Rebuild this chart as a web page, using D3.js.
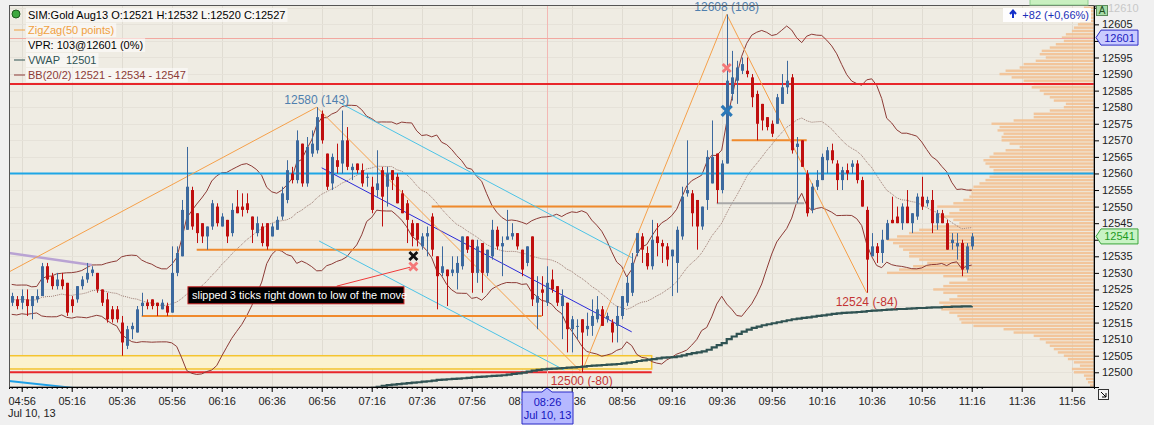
<!DOCTYPE html>
<html><head><meta charset="utf-8">
<script src="https://cdn.jsdelivr.net/npm/d3@7"></script>
<style>
html,body{margin:0;padding:0;background:#f0f0f0;}
svg{display:block;font-family:"Liberation Sans",Arial,sans-serif;}
</style></head><body>
<svg id="chart" width="1154" height="425"></svg>
<script>
// ---------------- DATA ----------------
const instrument = "SIM:Gold Aug13";
const sessionDate = "2013-07-10";
const firstBarTime = "04:52";
const barMinutes = 2;
// [open, high, low, close] per 2-minute bar
const candles = [
[12521,12524,12520,12523],[12522,12523,12519,12520],[12521,12525,12519,12523],[12522,12525,12517,12520],
[12520,12523,12516,12523],[12522,12525,12521,12523],[12523,12533,12523,12532],[12532,12533,12527,12528],
[12529,12530,12525,12526],[12526,12530,12525,12528],[12528,12530,12525,12526],[12527,12527,12517,12518],
[12522,12523,12518,12520],[12522,12526,12521,12526],[12526,12529,12525,12528],[12528,12533,12527,12530],
[12530,12532,12529,12531],[12530,12530,12524,12525],[12525,12525,12520,12521],[12522,12524,12515,12516],
[12519,12520,12515,12516],[12519,12520,12515,12516],[12515,12517,12505,12509],[12508,12514,12507,12513],
[12513,12515,12510,12514],[12512,12520,12512,12519],[12520,12524,12517,12521],[12521,12522,12519,12520],
[12522,12522,12519,12520],[12521,12521,12517,12520],[12519,12522,12519,12521],[12520,12521,12517,12518],
[12518,12538,12518,12530],[12530,12538,12529,12536],[12535,12552,12535,12549],[12543,12568,12543,12556],
[12555,12556,12543,12544],[12548,12548,12539,12542],[12545,12545,12539,12541],[12541,12544,12537,12544],
[12544,12552,12543,12551],[12550,12551,12544,12545],[12544,12548,12544,12547],[12546,12546,12539,12541],
[12542,12551,12541,12549],[12550,12555,12548,12548],[12550,12554,12547,12549],[12551,12554,12548,12549],
[12547,12547,12539,12543],[12542,12547,12541,12545],[12544,12545,12538,12539],[12545,12545,12537,12538],
[12541,12545,12541,12544],[12543,12547,12543,12546],[12547,12556,12546,12554],[12552,12564,12551,12561],
[12560,12562,12557,12558],[12558,12573,12557,12570],[12569,12569,12556,12557],[12557,12571,12556,12568],
[12566,12573,12565,12569],[12567,12580,12566,12577],[12578,12579,12569,12570],[12566,12566,12555,12556],
[12557,12566,12555,12565],[12564,12569,12560,12562],[12563,12579,12560,12570],[12570,12574,12561,12562],
[12561,12563,12558,12562],[12563,12563,12560,12561],[12561,12563,12556,12557],[12559,12560,12556,12559],
[12556,12559,12548,12549],[12555,12567,12553,12557],[12561,12562,12544,12553],[12556,12562,12550,12560],
[12561,12561,12555,12558],[12559,12560,12551,12551],[12554,12555,12548,12548],[12551,12552,12539,12546],
[12545,12546,12538,12541],[12545,12545,12538,12540],[12538,12542,12537,12541],[12541,12544,12535,12542],
[12547,12548,12535,12537],[12535,12535,12519,12529],[12530,12538,12529,12532],[12531,12531,12520,12529],
[12530,12535,12529,12531],[12530,12535,12525,12533],[12532,12541,12531,12541],[12541,12541,12536,12537],
[12540,12540,12524,12530],[12530,12540,12527,12538],[12539,12539,12524,12530],[12530,12537,12529,12537],
[12535,12546,12534,12543],[12543,12544,12537,12538],[12538,12541,12529,12539],[12540,12549,12540,12541],
[12541,12545,12540,12542],[12542,12542,12537,12538],[12537,12537,12529,12531],[12533,12538,12532,12538],
[12541,12541,12520,12522],[12521,12529,12513,12523],[12525,12529,12517,12524],[12521,12532,12520,12527],
[12528,12531,12524,12525],[12526,12526,12520,12521],[12520,12525,12510,12523],[12521,12521,12506,12513],
[12513,12517,12506,12516],[12514,12516,12510,12514],[12516,12516,12500,12512],[12513,12518,12511,12514],
[12514,12522,12511,12517],[12516,12523,12515,12519],[12519,12520,12514,12514],[12516,12518,12515,12517],
[12515,12516,12509,12512],[12514,12520,12509,12517],[12517,12523,12516,12523],[12521,12529,12520,12527],
[12524,12536,12523,12533],[12536,12542,12535,12542],[12541,12542,12533,12537],[12536,12538,12531,12532],
[12532,12546,12531,12540],[12541,12545,12535,12539],[12539,12540,12533,12538],[12538,12539,12532,12534],
[12535,12537,12523,12537],[12533,12544,12524,12543],[12541,12556,12540,12553],[12554,12570,12553,12555],
[12554,12555,12544,12548],[12552,12552,12537,12544],[12544,12550,12543,12550],[12552,12567,12549,12565],
[12557,12576,12557,12565],[12566,12566,12551,12555],[12555,12564,12554,12563],[12563,12608,12563,12588],
[12584,12597,12582,12589],[12588,12594,12581,12592],[12591,12595,12590,12593],[12591,12595,12589,12590],
[12589,12590,12580,12583],[12584,12585,12570,12575],[12581,12581,12573,12576],[12577,12577,12573,12574],
[12575,12576,12571,12572],[12575,12584,12575,12583],[12581,12590,12581,12586],[12586,12594,12584,12588],
[12589,12590,12566,12567],[12568,12571,12551,12569],[12570,12570,12562,12562],[12560,12561,12547,12548],
[12549,12557,12548,12556],[12556,12561,12555,12558],[12558,12566,12558,12565],[12564,12568,12560,12567],
[12567,12569,12563,12564],[12563,12564,12555,12558],[12558,12562,12555,12561],[12561,12563,12558,12560],
[12562,12564,12560,12563],[12563,12564,12557,12558],[12558,12559,12550,12550],[12549,12550,12524,12534],
[12535,12542,12535,12538],[12538,12539,12533,12536],[12536,12543,12533,12540],[12540,12546,12540,12545],
[12546,12553,12545,12545],[12547,12550,12545,12545],[12545,12551,12543,12550],[12550,12555,12545,12545],
[12545,12548,12542,12548],[12547,12554,12546,12553],[12553,12559,12549,12550],[12551,12553,12550,12552],
[12552,12555,12542,12545],[12545,12549,12543,12548],[12548,12549,12545,12545],[12545,12546,12537,12537],
[12539,12542,12537,12540],[12538,12542,12534,12539],[12539,12540,12529,12531],[12531,12539,12530,12538],
[12538,12542,12537,12541]
];
// closes of the 19 bars before the visible window (for the Bollinger band)
const priorCloses = [12524,12519,12522,12526,12520,12518,12523,12525,12521,12519,12524,12522,12520,12525,12523,12519,12521,12524,12522];
const bbPeriod = 20, bbDev = 2;
const crosshairBar = 107;

const vwapStartBar = 70;
const vwap = [
12494.9,12495.1,12495.3,12495.6,12495.9,12496.1,12496.3,12496.4,12496.6,12496.7,
12496.9,12497.0,12497.2,12497.3,12497.5,12497.7,12497.8,12497.9,12498.0,12498.1,
12498.2,12498.3,12498.5,12498.6,12498.7,12498.8,12498.9,12499.0,12499.1,12499.3,
12499.5,12499.7,12499.9,12500.2,12500.5,12500.7,12500.9,12501.0,12501.1,12501.2,
12501.3,12501.4,12501.5,12501.6,12501.7,12501.9,12502.0,12502.1,12502.2,12502.3,
12502.4,12502.5,12502.7,12502.9,12503.1,12503.4,12503.6,12503.8,12504.0,12504.2,
12504.4,12504.5,12504.6,12504.8,12505.1,12505.5,12505.8,12506.0,12506.3,12506.8,
12507.5,12508.2,12508.8,12510.0,12510.8,12511.6,12512.3,12512.9,12513.4,12513.8,
12514.2,12514.5,12514.8,12515.1,12515.4,12515.7,12516.0,12516.2,12516.4,12516.6,
12516.8,12517.0,12517.2,12517.4,12517.6,12517.8,12517.9,12518.0,12518.1,12518.2,
12518.3,12518.5,12518.6,12518.7,12518.8,12518.9,12519.0,12519.1,12519.1,12519.2,
12519.3,12519.4,12519.4,12519.5,12519.6,12519.6,12519.7,12519.7,12519.8,12519.8,
12519.9,12519.9,12520.0
];

const timeTicks = ["04:56","05:16","05:36","05:56","06:16","06:36","06:56","07:16","07:36","07:56","08:16",
  "08:36","08:56","09:16","09:36","09:56","10:16","10:36","10:56","11:16","11:36","11:56"];
const priceTicks = [12500,12505,12510,12515,12520,12525,12530,12535,12540,12545,12550,12555,12560,
  12565,12570,12575,12580,12585,12590,12595,12600,12605,12610];

// volume profile (price level -> volume)
const profilePrices = [
12496,12497,12498,12499,12500,12501,12502,12503,12504,12505,12506,12507,12508,12509,12510,
12511,12512,12513,12514,12515,12516,12517,12518,12519,12520,12521,12522,12523,12524,12525,
12526,12527,12528,12529,12530,12531,12532,12533,12534,12535,12536,12537,12538,12539,12540,
12541,12542,12543,12544,12545,12546,12547,12548,12549,12550,12551,12552,12553,12554,12555,
12556,12557,12558,12559,12560,12561,12562,12563,12564,12565,12566,12567,12568,12569,12570,
12571,12572,12573,12574,12575,12576,12577,12578,12579,12580,12581,12582,12583,12584,12585,
12586,12587,12588,12589,12590,12591,12592,12593,12594,12595,12596,12597,12598,12599,12600,
12601,12602,12603,12604,12605,12606,12607,12608,12609,12610,12611];
const profileVolume = [
2,3,4,5,10,11,7,10,13,15,18,20,22,24,27,
30,40,45,60,66,67,68,72,76,75,77,72,68,75,80,
75,72,63,75,103,97,90,83,87,92,92,95,97,100,103,
98,92,87,80,67,70,77,72,67,78,70,65,62,61,62,
60,57,54,52,50,50,52,54,55,52,50,44,37,42,46,
46,45,48,47,51,40,30,30,22,15,14,20,22,25,27,
31,30,35,41,47,44,37,35,29,24,27,26,22,19,15,
16,14,11,10,8,7,7,6,6,5,4];

const zigzagTimes = ["01:00","06:54","08:40","09:38","10:34"];
const zigzagPrices = [12437,12580,12500,12608,12524];
const zigzagLabels = ["","12580 (143)","12500 (-80)","12608 (108)","12524 (-84)"];

const levelPrices = [12587, 12560];
const vprLevel = 12601;
const crosshairTime = "08:26";
// horizontal segments: [start, end, price]
const orangeSegments = [["06:06","07:35",12537],["05:44","08:24",12517],["07:40","09:16",12550],["09:40","10:10",12570]];
const greySegments = [["09:34","10:09",12551]];
const zone = {start:"04:40", end:"09:08", low:12501, high:12505};
const baseLine = {start:"04:40", end:"09:08", price:12500};
// sloped lines: [t1,p1,t2,p2]
const channelLines = [["07:04",12581,"09:00",12534.6],["06:55",12539.6,"08:33",12500.7]];
const regressionLine = ["06:56",12561.7,"09:00",12512.2];
const oldTrendLine = ["04:40",12498.3,"05:20",12495.0];
const purpleLine = ["04:50:55",12536,"05:24",12532.4];
const markers = [
  {t:"07:32:40", p:12535.1, kind:"exit"},
  {t:"07:32:40", p:12531.9, kind:"fillShort"},
  {t:"09:38", p:12591.8, kind:"fillShort"},
  {t:"09:38", p:12578.9, kind:"entry"}
];
const note = {t:"06:02:30", p:12525.8, text:"slipped 3 ticks right down to low of the move"};
const noteArrow = ["07:02",12526,"07:31:20",12531.7];
const lastPrice = 12541;
const changeText = "+82 (+0,66%)";

// ---------------- CHART ----------------
const svg = d3.select("#chart");
const P = {l:9, r:1094, t:5.5, b:387};
const T = s => d3.timeParse("%Y-%m-%d %H:%M:%S")(sessionDate + " " + (s.length===5 ? s+":00" : s));
const x = d3.scaleTime().domain([T("04:50:55"), T("12:04:55")]).range([P.l, P.r]);
const y = d3.scaleLinear().domain([12495.56, 12610.69]).range([P.b, P.t]);
const t0 = T(firstBarTime);
const barTime = i => d3.timeMinute.offset(t0, i*barMinutes);

svg.append("defs").append("clipPath").attr("id","clip")
  .append("rect").attr("x",P.l).attr("y",P.t).attr("width",P.r-P.l).attr("height",P.b-P.t);

svg.append("rect").attr("x",P.l).attr("y",P.t).attr("width",P.r-P.l).attr("height",P.b-P.t).attr("fill","#efece3");
const g = svg.append("g").attr("clip-path","url(#clip)");

// grid
g.selectAll(".vg").data(timeTicks).join("line")
  .attr("x1",d=>Math.round(x(T(d)))+0.5).attr("x2",d=>Math.round(x(T(d)))+0.5)
  .attr("y1",P.t).attr("y2",P.b).attr("stroke","#e0dcd2").attr("stroke-width",1);
g.selectAll(".hg").data(priceTicks).join("line")
  .attr("y1",d=>Math.round(y(d))+0.5).attr("y2",d=>Math.round(y(d))+0.5)
  .attr("x1",P.l).attr("x2",P.r).attr("stroke","#e6e2d9").attr("stroke-width",1);

// volume profile
const vx = d3.scaleLinear().domain([0, d3.max(profileVolume)]).range([0, 207]);
g.selectAll(".vp").data(profilePrices).join("rect")
  .attr("x",(d,i)=>P.r - vx(profileVolume[i])).attr("width",(d,i)=>vx(profileVolume[i]))
  .attr("y",d=>y(d)-1.2).attr("height",2.4).attr("fill","#f2c192").attr("opacity",0.9);

// zone rectangle + base line
g.append("rect").attr("x",x(T(zone.start))).attr("width",x(T(zone.end))-x(T(zone.start)))
  .attr("y",y(zone.high)).attr("height",y(zone.low)-y(zone.high))
  .attr("fill","#fbf2cf").attr("stroke","#f4c430").attr("stroke-width",1.5);
g.append("line").attr("x1",x(T(baseLine.start))).attr("x2",x(T(baseLine.end)))
  .attr("y1",y(baseLine.price)).attr("y2",y(baseLine.price)).attr("stroke","#e8262a").attr("stroke-width",2);

// crosshair vertical + vpr level
g.append("line").attr("x1",Math.round(x(T(crosshairTime)))+0.5).attr("x2",Math.round(x(T(crosshairTime)))+0.5)
  .attr("y1",P.t).attr("y2",P.b).attr("stroke","#f3b8b4").attr("stroke-width",1);
g.append("line").attr("x1",P.l).attr("x2",P.r).attr("y1",Math.round(y(vprLevel))+0.5).attr("y2",Math.round(y(vprLevel))+0.5)
  .attr("stroke","#f2a8a0").attr("stroke-width",1);

// Bollinger bands
const closes = candles.map(d=>d[3]);
const all = priorCloses.concat(closes);
const bb = closes.map((c,i)=>{
  const w = all.slice(i + priorCloses.length - bbPeriod + 1, i + priorCloses.length + 1);
  const m = d3.mean(w); const sd = Math.sqrt(d3.mean(w, v=>(v-m)*(v-m)));
  return {i, mid:m, up:m+bbDev*sd, lo:m-bbDev*sd};
});
const bx = d => x(barTime(d.i));
g.append("path").datum(bb).attr("fill","none").attr("stroke","#8c3b36").attr("stroke-width",1)
  .attr("d",d3.line().x(bx).y(d=>y(d.up)));
g.append("path").datum(bb).attr("fill","none").attr("stroke","#8c3b36").attr("stroke-width",1)
  .attr("d",d3.line().x(bx).y(d=>y(d.lo)));
g.append("path").datum(bb).attr("fill","none").attr("stroke","#9c7b72").attr("stroke-width",1)
  .attr("stroke-dasharray","1,1").attr("d",d3.line().x(bx).y(d=>y(d.mid)));

// horizontal levels
g.selectAll(".lvl").data(levelPrices).join("line")
  .attr("x1",P.l).attr("x2",P.r).attr("y1",d=>y(d)).attr("y2",d=>y(d))
  .attr("stroke",(d,i)=>i===0?"#e8262a":"#1ea6e6").attr("stroke-width",2);
g.selectAll(".oseg").data(orangeSegments).join("line")
  .attr("x1",d=>x(T(d[0]))).attr("x2",d=>x(T(d[1]))).attr("y1",d=>y(d[2])).attr("y2",d=>y(d[2]))
  .attr("stroke","#f08a2c").attr("stroke-width",2);
g.selectAll(".gseg").data(greySegments).join("line")
  .attr("x1",d=>x(T(d[0]))).attr("x2",d=>x(T(d[1]))).attr("y1",d=>y(d[2])).attr("y2",d=>y(d[2]))
  .attr("stroke","#a8a8a8").attr("stroke-width",2);

// sloped lines
const seg = (L, stroke, w) => g.append("line").attr("x1",x(T(L[0]))).attr("y1",y(L[1]))
  .attr("x2",x(T(L[2]))).attr("y2",y(L[3])).attr("stroke",stroke).attr("stroke-width",w);
channelLines.forEach(L=>seg(L,"#4cc3e6",1));
seg(regressionLine,"#2a2ad8",1);
seg(oldTrendLine,"#1ea0e6",2);
seg(purpleLine,"#b9a3d3",2.5);

// zigzag
const zz = zigzagTimes.map((t,i)=>({t:T(t), p:zigzagPrices[i], lab:zigzagLabels[i], i}));
g.append("path").datum(zz).attr("fill","none").attr("stroke","#f5a04a").attr("stroke-width",1)
  .attr("d",d3.line().x(d=>x(d.t)).y(d=>y(d.p)));

// candles
const cg = g.append("g");
candles.forEach((d,i)=>{
  const cx = Math.round(x(barTime(i)));
  const up = d[3] >= d[0];
  const col = up ? "#3c699e" : "#bf0f0f";
  cg.append("line").attr("x1",cx+0.5).attr("x2",cx+0.5).attr("y1",y(d[1])).attr("y2",y(d[2]))
    .attr("stroke",col).attr("stroke-width",1);
  const top = y(Math.max(d[0],d[3])), bot = y(Math.min(d[0],d[3]));
  cg.append("rect").attr("x",cx-1).attr("width",3).attr("y",top).attr("height",Math.max(1,bot-top)).attr("fill",col);
});

// VWAP
g.append("path").datum(vwap).attr("fill","none").attr("stroke","#2f5252").attr("stroke-width",2.2)
  .attr("d",d3.line().curve(d3.curveStepAfter).x((d,i)=>x(barTime(i+vwapStartBar))).y(d=>y(d)));

// note arrow
seg(noteArrow,"#f03a3a",1);

// markers
const mk = svg.append("g");
markers.forEach(m=>{
  const cx = x(T(m.t)), cy = y(m.p);
  const s = m.kind==="entry" ? 5 : 4;
  const col = m.kind==="entry" ? "#2a78b8" : (m.kind==="exit" ? "#111" : "#f47878");
  const w = m.kind==="entry" ? 3.2 : 2.8;
  mk.append("path").attr("d",`M${cx-s},${cy-s}L${cx+s},${cy+s}M${cx-s},${cy+s}L${cx+s},${cy-s}`)
    .attr("stroke",col).attr("stroke-width",w).attr("fill","none");
});

// zigzag labels
zz.forEach((d,i)=>{
  if(!d.lab) return;
  const isHigh = i>0 && d.p > zz[i-1].p;
  svg.append("text").attr("x",x(d.t)).attr("y", isHigh ? y(d.p)-3 : y(d.p)+13)
    .attr("text-anchor","middle").attr("font-size",12).attr("fill", isHigh ? "#4f7fae" : "#c43434").text(d.lab);
});

// note box
const nx = x(T(note.t)), ny = y(note.p);
svg.append("rect").attr("x",nx).attr("y",ny).attr("width",216).attr("height",17)
  .attr("fill","#000").attr("stroke","#c82020").attr("stroke-width",1);
svg.append("text").attr("x",nx+4).attr("y",ny+12.5).attr("font-size",11).attr("fill","#fff").text(note.text);

// plot border
svg.append("rect").attr("x",P.l+0.5).attr("y",P.t).attr("width",P.r-P.l-0.5).attr("height",P.b-P.t)
  .attr("fill","none").attr("stroke","#555").attr("stroke-width",1);

// axes
const xa = svg.append("g").attr("transform",`translate(0,${P.b})`);
xa.call(d3.axisBottom(x).tickValues(candles.map((d,i)=>barTime(i)).concat([barTime(candles.length),barTime(candles.length+1)]).filter(t=>x(t)<=P.r)).tickSize(2).tickFormat(""));
xa.call(g2=>g2.select(".domain").attr("stroke","#000"));
const xa2 = svg.append("g").attr("transform",`translate(0,${P.b})`);
xa2.call(d3.axisBottom(x).tickValues(timeTicks.map(T)).tickSize(5).tickPadding(5).tickFormat(d3.timeFormat("%H:%M")));
xa2.select(".domain").remove();
xa2.selectAll("text").attr("font-size",11).attr("font-family","Liberation Sans, Arial").attr("fill","#222");
svg.append("text").attr("x",8).attr("y",417).attr("font-size",11).attr("fill","#222").text(d3.timeFormat("%b %d, %y")(T("04:56")).replace(/ 0/," "));

// price tags hide the tick labels they cover (as in the reference)
const hiddenTicks = [vprLevel, lastPrice].map(p=>Math.round(p/5)*5);
const ya = svg.append("g").attr("transform",`translate(${P.r},0)`);
ya.call(d3.axisRight(y).tickValues(priceTicks).tickSize(5).tickPadding(3)
  .tickFormat(d=>hiddenTicks.includes(d) ? "" : d3.format("d")(d)));
ya.select(".domain").attr("stroke","#000");
ya.selectAll("text").attr("font-size",11).attr("font-family","Liberation Sans, Arial").attr("fill",d=>d===12610?"#c8c8c8":"#222")
  .attr("x",d=>d===12610?14:8);

// price markers on axis
function tag(price, fill, stroke, txt){
  const cy = y(price);
  svg.append("path").attr("d",`M${P.r+2},${cy}L${P.r+7},${cy-7.5}L${P.r+44},${cy-7.5}L${P.r+44},${cy+7.5}L${P.r+7},${cy+7.5}Z`)
    .attr("fill",fill).attr("stroke",stroke).attr("stroke-width",1);
  svg.append("text").attr("x",P.r+25.5).attr("y",cy+4).attr("text-anchor","middle").attr("font-size",11).attr("fill",txt).text(d3.format("d")(price));
}
tag(vprLevel,"#c9cbff","#2a2ac8","#2020c0");
tag(lastPrice,"#c8f3c4","#3aa53a","#1f9a1f");

// "A" box
svg.append("rect").attr("x",1096.5).attr("y",5.5).attr("width",11).attr("height",10).attr("fill","#a7dca7").attr("stroke","#5a8a5a");
svg.append("text").attr("x",1102).attr("y",14).attr("text-anchor","middle").attr("font-size",10).attr("fill","#1d4d1d").text("A");

// change box top right
svg.append("rect").attr("x",1030).attr("y",-4).attr("width",58).attr("height",9).attr("fill","#c9f0c0").attr("stroke","#8fce8f");
svg.append("rect").attr("x",1003).attr("y",8).attr("width",88).attr("height",14).attr("fill","#ffffff").attr("opacity",0.9);
svg.append("path").attr("d","M1013,18V12M1010,14L1013,10.5L1016,14").attr("stroke","#1530c8").attr("stroke-width",2).attr("fill","none");
svg.append("text").attr("x",1089).attr("y",19).attr("text-anchor","end").attr("font-size",11).attr("fill","#1a2fb8").text(changeText);

// crosshair time box
const chx = Math.round(x(T(crosshairTime)));
svg.append("path").attr("d",`M${chx-25},392L${chx-5},392L${chx},388L${chx+5},392L${chx+26},392L${chx+26},424L${chx-25},424Z`)
  .attr("fill","#b6b8ff").attr("stroke","#2a2ac8");
svg.append("text").attr("x",chx+0.5).attr("y",406).attr("text-anchor","middle").attr("font-size",11).attr("fill","#1414c0").text(crosshairTime);
svg.append("text").attr("x",chx+0.5).attr("y",419).attr("text-anchor","middle").attr("font-size",11).attr("fill","#1414c0").text("Jul 10, 13");

// corner icon
svg.append("rect").attr("x",1098.5).attr("y",389.5).attr("width",10).attr("height",10).attr("fill","#f4f4f4").attr("stroke","#333");
svg.append("path").attr("d","M1101,392L1106,397M1106,393V397H1102").attr("stroke","#000").attr("fill","none");

// legend
const cb = candles[crosshairBar];
const lastBB = bb[crosshairBar];
const legend = [
  {txt:`${instrument} O:${cb[0]} H:${cb[1]} L:${cb[2]} C:${cb[3]}`, col:"#000", dash:null},
  {txt:"ZigZag(50 points)", col:"#f0a040", dash:"#f0a040"},
  {txt:`VPR: 103@${vprLevel} (0%)`, col:"#000", dash:null},
  {txt:`VWAP  ${Math.round(vwap[crosshairBar - vwapStartBar])}`, col:"#2f5252", dash:"#2f5252"},
  {txt:`BB(20/2) ${Math.round(lastBB.lo)} - ${Math.round(lastBB.mid)} - ${Math.round(lastBB.up)}`, col:"#8c3b36", dash:"#8c3b36"}
];
const lg = svg.append("g");
legend.forEach((L,i)=>{
  const by = 19 + i*15;
  const t = lg.append("text").attr("x",28).attr("y",by).attr("font-size",11).attr("fill",L.col)
    .attr("xml:space","preserve").style("white-space","pre").text(L.txt);
  const w = t.node().getComputedTextLength();
  lg.insert("rect","text").attr("x",26).attr("y",by-11).attr("width",w+4).attr("height",14).attr("fill","#fff").attr("opacity",0.55);
  if(L.dash) lg.append("line").attr("x1",14).attr("x2",25).attr("y1",by-4).attr("y2",by-4).attr("stroke",L.dash).attr("stroke-width",1);
});
lg.append("circle").attr("cx",16).attr("cy",14).attr("r",4).attr("fill","#3ea83e").attr("stroke","#1d5a1d");
</script>
</body></html>
